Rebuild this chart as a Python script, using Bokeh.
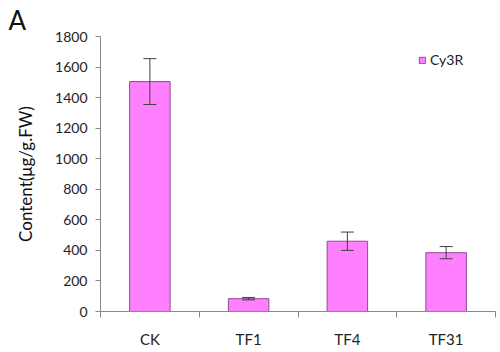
from bokeh.plotting import figure
from bokeh.models import (Range1d, FixedTicker, Whisker, ColumnDataSource, Legend,
                          LegendItem, TeeHead, Title)
from bokeh.embed import file_html
from bokeh.resources import INLINE

categories = ["CK", "TF1", "TF4", "TF31"]
values = [1505, 84, 460, 385]
errors = [150, 8, 60, 40]
series_name = "Cy3R"
y_ticks = [0, 200, 400, 600, 800, 1000, 1200, 1400, 1600, 1800]

FONT = "Lato"
xs = [i + 0.5 for i in range(len(categories))]
src = ColumnDataSource(dict(
    x=xs, top=values,
    upper=[v + e for v, e in zip(values, errors)],
    lower=[v - e for v, e in zip(values, errors)],
))

p = figure(width=500, height=352, output_backend="svg", toolbar_location=None,
           x_range=Range1d(0, len(categories)), y_range=Range1d(0, 1800),
           min_border_left=100, min_border_right=5, min_border_top=6,
           min_border_bottom=41)
p.title = Title(text="A", align="left", offset=-92, text_font=FONT,
                text_font_size="26px", text_font_style="normal",
                text_color="#111111", standoff=2)
p.outline_line_color = None
p.grid.visible = False
p.background_fill_color = "white"

bars = p.vbar(x="x", top="top", width=0.41, source=src, fill_color="#FF80FF",
              line_color="#8E4B8E", line_width=1)

w = Whisker(base="x", upper="upper", lower="lower", source=src, level="overlay",
            line_color="#404040", line_width=1,
            upper_head=TeeHead(size=13, line_color="#404040", line_width=1),
            lower_head=TeeHead(size=13, line_color="#404040", line_width=1))
p.add_layout(w)

# axes
xa = p.xaxis[0]
xa.ticker = FixedTicker(ticks=xs, minor_ticks=list(range(len(categories) + 1)))
xa.major_label_overrides = {x: c for x, c in zip(xs, categories)}
xa.major_tick_out = 0
xa.major_tick_in = 0
xa.minor_tick_out = 6
xa.minor_tick_in = 0
xa.minor_tick_line_color = "#888888"
xa.axis_line_color = "#888888"
xa.major_label_text_font = FONT
xa.major_label_text_font_size = "15px"
xa.major_label_text_color = "#222222"
xa.major_label_standoff = 12

ya = p.yaxis[0]
ya.ticker = FixedTicker(ticks=y_ticks)
ya.minor_tick_line_color = None
ya.major_tick_out = 5
ya.major_tick_in = 0
ya.major_tick_line_color = "#888888"
ya.axis_line_color = "#888888"
ya.major_label_text_font = FONT
ya.major_label_text_font_size = "14px"
ya.major_label_text_color = "#222222"
ya.major_label_standoff = 8
ya.axis_label = "Content(μg/g.FW)"
ya.axis_label_text_font = FONT
ya.axis_label_text_font_size = "17px"
ya.axis_label_text_font_style = "normal"
ya.axis_label_text_color = "#111111"
ya.axis_label_standoff = 16

legend = Legend(items=[LegendItem(label=series_name, renderers=[bars])],
                location=(318, 243), glyph_width=8, glyph_height=8,
                label_text_font=FONT, label_text_font_size="14px",
                label_text_color="#222222", border_line_color=None,
                background_fill_alpha=0, padding=0, margin=0, spacing=0,
                label_standoff=4)
p.add_layout(legend)

open("out.html", "w").write(file_html(p, INLINE))
